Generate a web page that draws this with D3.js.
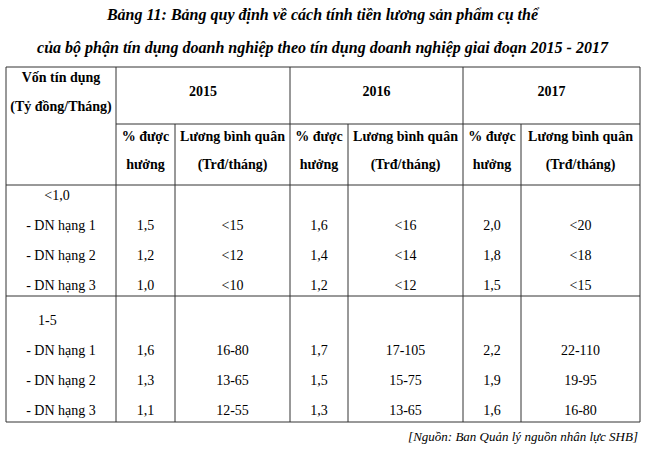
<!DOCTYPE html>
<html><head><meta charset="utf-8">
<script src="https://cdn.jsdelivr.net/npm/d3@7"></script>
<style>body{margin:0;background:#fff}</style>
</head><body><div id="vis"></div>
<script>
const years = ["2015", "2016", "2017"];
const groups = ["<1,0", "1-5"];
const ranks = ["- DN hạng 1", "- DN hạng 2", "- DN hạng 3"];
// % được hưởng [group][rank][year]
const pct = [
    [["1,5", "1,6", "2,0"], ["1,2", "1,4", "1,8"], ["1,0", "1,2", "1,5"]],
    [["1,6", "1,7", "2,2"], ["1,3", "1,5", "1,9"], ["1,1", "1,3", "1,6"]]
];
const salary = [
    [["<15", "<16", "<20"], ["<12", "<14", "<18"], ["<10", "<12", "<15"]],
    [["16-80", "17-105", "22-110"], ["13-65", "15-75", "19-95"], ["12-55", "13-65", "16-80"]]
];

function createVisual() {
    const width = 645, height = 450;
    const svg = d3.select("#vis").append("svg")
        .attr("width", width).attr("height", height)
        .style("font-family", "'Liberation Serif', 'DejaVu Serif', serif");

    const cols = [6, 116, 175, 290, 348, 463, 521, 640];
    const top = 67, mid = 124, head = 185, sep = 296, bottom = 422;

    svg.append("text").attr("x", width / 2).attr("y", 20).attr("text-anchor", "middle")
        .attr("font-size", 16).attr("font-weight", "bold").attr("font-style", "italic")
        .text("Bảng 11: Bảng quy định về cách tính tiền lương sản phẩm cụ thể");
    svg.append("text").attr("x", width / 2).attr("y", 53).attr("text-anchor", "middle")
        .attr("font-size", 16).attr("font-weight", "bold").attr("font-style", "italic")
        .text("của bộ phận tín dụng doanh nghiệp theo tín dụng doanh nghiệp giai đoạn 2015 - 2017");

    const line = (x1, y1, x2, y2, w) => svg.append("line")
        .attr("x1", x1).attr("y1", y1).attr("x2", x2).attr("y2", y2)
        .attr("stroke", "#333").attr("stroke-width", w || 1);

    line(cols[0], top, cols[7], top);
    line(cols[1], mid, cols[7], mid);
    line(cols[0], head, cols[7], head);
    line(cols[0], sep, cols[7], sep);
    line(cols[0], bottom, cols[7], bottom);
    [0, 1, 3, 5, 7].forEach(i => line(cols[i], top, cols[i], bottom));
    [2, 4, 6].forEach(i => line(cols[i], mid, cols[i], bottom));

    const txt = (x, y, s, bold, anchor) => svg.append("text").attr("x", x).attr("y", y)
        .attr("text-anchor", anchor || "middle").attr("font-size", 14)
        .attr("font-weight", bold ? "bold" : "normal").text(s);

    txt((cols[0] + cols[1]) / 2, 82, "Vốn tín dụng", true);
    txt((cols[0] + cols[1]) / 2, 111, "(Tỷ đồng/Tháng)", true);
    years.forEach((y, i) => {
        const a = cols[1 + 2 * i], b = cols[2 + 2 * i], c = cols[3 + 2 * i];
        txt((a + c) / 2, 96, y, true);
        txt((a + b) / 2, 141, "% được", true);
        txt((a + b) / 2, 169, "hưởng", true);
        txt((b + c) / 2, 141, "Lương bình quân", true);
        txt((b + c) / 2, 169, "(Trđ/tháng)", true);
    });

    const rowY = d3.scaleLinear().domain([0, 1]).range([200, 325]);
    groups.forEach((g, gi) => {
        const y0 = rowY(gi);
        if (gi === 0) txt((cols[0] + cols[1]) / 2 - 4, y0, g);
        else txt(38, y0, g, false, "start");
        ranks.forEach((r, ri) => {
            const y = y0 + 30 * (ri + 1);
            txt((cols[0] + cols[1]) / 2, y, r);
            years.forEach((yr, yi) => {
                txt((cols[1 + 2 * yi] + cols[2 + 2 * yi]) / 2, y, pct[gi][ri][yi]);
                txt((cols[2 + 2 * yi] + cols[3 + 2 * yi]) / 2, y, salary[gi][ri][yi]);
            });
        });
    });

    svg.append("text").attr("x", 638).attr("y", 441).attr("text-anchor", "end")
        .attr("font-size", 13).attr("font-style", "italic")
        .text("[Nguồn: Ban Quản lý nguồn nhân lực SHB]");
}

window.addEventListener('load', createVisual);
</script></body></html>
